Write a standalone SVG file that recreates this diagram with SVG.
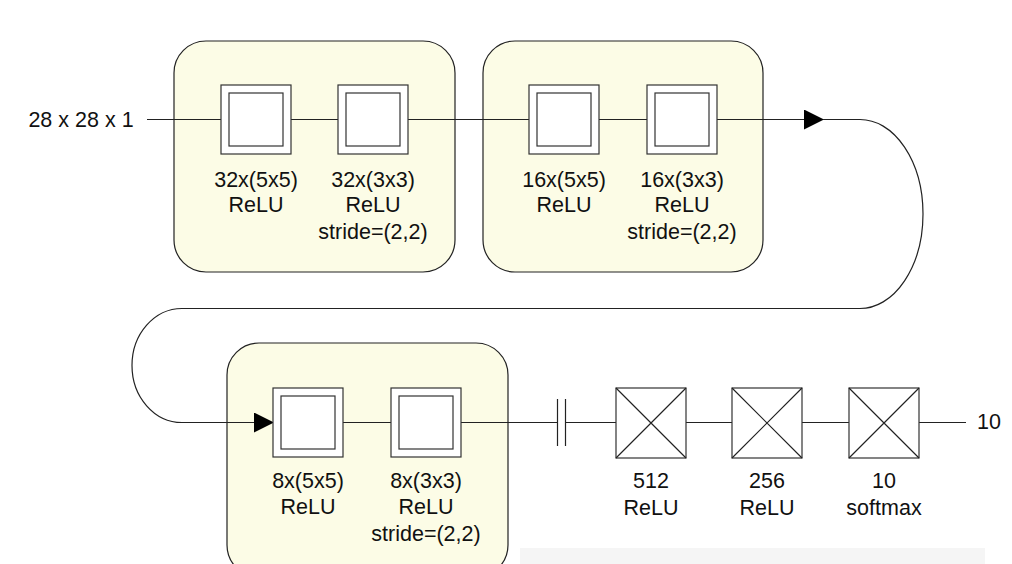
<svg xmlns="http://www.w3.org/2000/svg" width="1012" height="564" viewBox="0 0 1012 564">
<style>
.grp{fill:#fcfce6;stroke:#222;stroke-width:1.2}
.sq{fill:#fff;stroke:#333;stroke-width:1.2}
.fc{fill:#fff;stroke:#333;stroke-width:1.2}
.ln{fill:none;stroke:#222;stroke-width:1.2}
text{font-family:"Liberation Sans",Arial,sans-serif;font-size:21.5px;fill:#111;text-anchor:middle}
</style>
<defs>
<marker id="arr" markerWidth="20" markerHeight="20" refX="19" refY="10" orient="auto" markerUnits="userSpaceOnUse">
<path d="M0,0 L20,10 L0,20 Z" fill="#000"/>
</marker>
</defs>
<rect x="0" y="0" width="1012" height="564" fill="#fff"/>
<rect x="520" y="548" width="465" height="16" fill="#f5f5f5"/>

<g id="group1"><rect class="grp" x="174" y="41" width="281" height="231" rx="32"/></g>
<g id="group2"><rect class="grp" x="483" y="41" width="280" height="231" rx="32"/></g>
<g id="group3"><rect class="grp" x="227" y="343" width="281" height="234" rx="32"/></g>

<g id="connectors">
<line class="ln" x1="147" y1="119.5" x2="221" y2="119.5"/>
<line class="ln" x1="291" y1="119.5" x2="338" y2="119.5"/>
<line class="ln" x1="408" y1="119.5" x2="529" y2="119.5"/>
<line class="ln" x1="599" y1="119.5" x2="647" y2="119.5"/>
<line class="ln" x1="717" y1="119.5" x2="823" y2="119.5" marker-end="url(#arr)"/>
<path class="ln" d="M823,119.5 L860,119.5 A63 94.5 0 0 1 860,308.5 L182,308.5 A50 57 0 0 0 182,422.5 L273,422.5" marker-end="url(#arr)"/>
<line class="ln" x1="343" y1="422.5" x2="391" y2="422.5"/>
<line class="ln" x1="461" y1="422.5" x2="557.5" y2="422.5"/>
<line class="ln" x1="557.5" y1="399" x2="557.5" y2="446"/>
<line class="ln" x1="565.5" y1="399" x2="565.5" y2="446"/>
<line class="ln" x1="565.5" y1="422.5" x2="616" y2="422.5"/>
<line class="ln" x1="686" y1="422.5" x2="732" y2="422.5"/>
<line class="ln" x1="802" y1="422.5" x2="849" y2="422.5"/>
<line class="ln" x1="919" y1="422.5" x2="966" y2="422.5"/>
</g>

<g id="input"><text x="81" y="127">28 x 28 x 1</text></g>

<g id="conv1">
<rect class="sq" x="221" y="85" width="70" height="69"/><rect class="sq" x="229" y="93" width="54" height="53"/>
<text x="256" y="187">32x(5x5)</text><text x="256" y="212">ReLU</text>
</g>
<g id="conv2">
<rect class="sq" x="338" y="85" width="70" height="69"/><rect class="sq" x="346" y="93" width="54" height="53"/>
<text x="373" y="187">32x(3x3)</text><text x="373" y="212">ReLU</text><text x="373" y="239">stride=(2,2)</text>
</g>
<g id="conv3">
<rect class="sq" x="529" y="85" width="70" height="69"/><rect class="sq" x="537" y="93" width="54" height="53"/>
<text x="564" y="187">16x(5x5)</text><text x="564" y="212">ReLU</text>
</g>
<g id="conv4">
<rect class="sq" x="647" y="85" width="70" height="69"/><rect class="sq" x="655" y="93" width="54" height="53"/>
<text x="682" y="187">16x(3x3)</text><text x="682" y="212">ReLU</text><text x="682" y="239">stride=(2,2)</text>
</g>
<g id="conv5">
<rect class="sq" x="273" y="388" width="70" height="69"/><rect class="sq" x="281" y="396" width="54" height="53"/>
<text x="308" y="488">8x(5x5)</text><text x="308" y="514">ReLU</text>
</g>
<g id="conv6">
<rect class="sq" x="391" y="388" width="70" height="69"/><rect class="sq" x="399" y="396" width="54" height="53"/>
<text x="426" y="488">8x(3x3)</text><text x="426" y="514">ReLU</text><text x="426" y="541">stride=(2,2)</text>
</g>
<g id="fc1">
<rect class="fc" x="616" y="388" width="70" height="70"/><path class="ln" d="M616,388 L686,458 M686,388 L616,458"/>
<text x="651" y="488">512</text><text x="651" y="515">ReLU</text>
</g>
<g id="fc2">
<rect class="fc" x="732" y="388" width="70" height="70"/><path class="ln" d="M732,388 L802,458 M802,388 L732,458"/>
<text x="767" y="488">256</text><text x="767" y="515">ReLU</text>
</g>
<g id="fc3">
<rect class="fc" x="849" y="388" width="70" height="70"/><path class="ln" d="M849,388 L919,458 M919,388 L849,458"/>
<text x="884" y="488">10</text><text x="884" y="515">softmax</text>
</g>
<g id="output"><text x="989" y="429">10</text></g>
</svg>
